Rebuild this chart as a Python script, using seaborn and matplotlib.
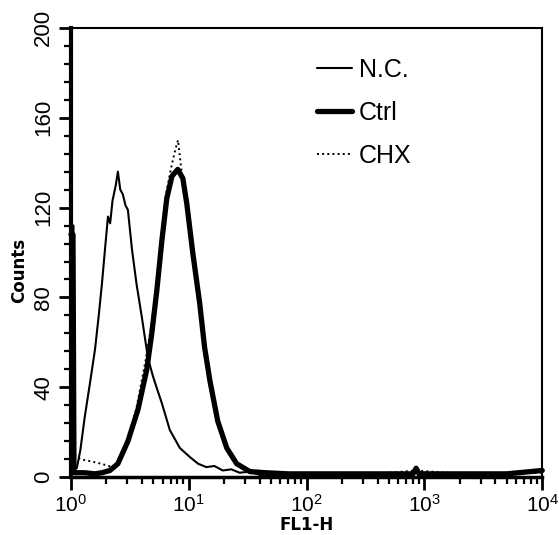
import pandas as pd
import seaborn as sns
import matplotlib.pyplot as plt
from matplotlib.ticker import FixedLocator, LogLocator

# ---- data (FL1-H value, counts) ----
nc_x = [1.0, 1.05, 1.07, 1.12, 1.2, 1.31, 1.45, 1.6, 1.72, 1.83, 1.94, 2.06, 2.15, 2.25,
        2.4, 2.5, 2.62, 2.75, 2.9, 3.04, 3.3, 3.6, 4.0, 4.5, 4.96, 5.4, 5.9, 6.9, 8.4,
        10.2, 12.0, 14.1, 16.5, 19.4, 23.0, 27.0, 33.0, 40.0, 60.0, 100.0, 1000.0,
        10000.0]
nc_y = [112, 112, 5, 4, 12, 27, 42, 57, 72, 86, 101, 116, 113, 123,
        130, 136, 128, 126, 121, 119, 101, 86, 71, 53, 45, 39, 33, 21, 13,
        9, 6, 4.5, 5, 3, 3.5, 2, 2.5, 1, 0.5, 0, 0, 0]

ctrl_x = [1.0, 1.04, 1.06, 1.3, 1.6, 1.83, 2.14, 2.5, 3.04, 3.7, 4.4, 4.85, 5.35, 5.9,
          6.5, 7.2, 8.06, 8.9, 9.6, 10.8, 12.4, 13.6, 15.1, 17.6, 21.0, 25.5, 33.0,
          45.0, 70.0, 150.0, 400.0, 800.0, 850.0, 900.0, 2000.0, 5000.0, 10000.0]
ctrl_y = [108, 108, 2, 2, 1.5, 2, 3, 6, 16, 30, 48, 64, 83, 105,
          124, 134, 137, 133, 122, 100, 77, 58, 43, 25, 13, 6, 2.5,
          2, 1.5, 1.5, 1.5, 1.5, 4, 1.5, 1.5, 1.5, 3]

chx_x = [1.0, 1.03, 1.06, 1.2, 1.5, 1.8, 2.1, 2.3, 2.5, 3.0, 3.6, 4.3, 4.8, 5.3, 5.8,
         6.4, 7.1, 7.7, 8.1, 8.6, 9.4, 10.7, 12.3, 13.5, 15.0, 17.5, 21.0, 25.5, 33.0,
         45.0, 70.0, 150.0, 400.0, 850.0, 2000.0, 10000.0]
chx_y = [55, 55, 10, 8, 7, 6, 5, 4, 6, 15, 31, 52, 67, 85, 107,
         126, 138, 146, 150, 138, 123, 101, 78, 59, 42, 24, 12, 6, 2.5,
         2, 1.5, 1.5, 1.5, 3, 1.5, 2]

series = [("N.C.", nc_x, nc_y, 1.5, "-"),
          ("Ctrl", ctrl_x, ctrl_y, 3.8, "-"),
          ("CHX", chx_x, chx_y, 1.4, ":")]

# ---- figure ----
sns.set_theme(style="ticks")
plt.rcParams['font.family'] = ['Liberation Sans', 'DejaVu Sans']
plt.rcParams['mathtext.default'] = 'regular'
plt.rcParams['text.color'] = 'black'
plt.rcParams['axes.labelcolor'] = 'black'
plt.rcParams['xtick.labelcolor'] = 'black'
plt.rcParams['ytick.labelcolor'] = 'black'

fig = plt.figure(figsize=(5.59, 5.35), dpi=100)
ax = fig.add_axes([0.127, 0.108, 0.843, 0.840])

for name, xs, ys, lw, ls in series:
    df = pd.DataFrame({"FL1-H": xs, "Counts": ys})
    sns.lineplot(data=df, x="FL1-H", y="Counts", ax=ax, color="black",
                 linewidth=lw, linestyle=ls, sort=False,
                 estimator=None, label=name, clip_on=False)

ax.set_xscale("log")
ax.set_xlim(1, 10000)
ax.set_ylim(0, 200)

ax.yaxis.set_major_locator(FixedLocator([0, 40, 80, 120, 160, 200]))
ax.yaxis.set_minor_locator(FixedLocator(range(0, 201, 8)))
ax.xaxis.set_major_locator(LogLocator(base=10, numticks=10))
ax.xaxis.set_minor_locator(LogLocator(base=10, subs=range(2, 10), numticks=10))

ax.set_yticklabels(["0", "40", "80", "120", "160", "200"], rotation=90, va="center")
ax.tick_params(axis="both", which="major", direction="out", length=9, width=2,
               color="black", labelcolor="black", labelsize=16, pad=3)
ax.tick_params(axis="both", which="minor", direction="out", length=5, width=1.6,
               color="black")
ax.tick_params(axis="x", which="major", labelsize=15)

ax.set_xlabel("FL1-H", fontsize=12, fontweight="bold", labelpad=0,
              color="black", family=["DejaVu Sans"])
ax.set_ylabel("Counts", fontsize=12, fontweight="bold",
              color="black", family=["DejaVu Sans"])
ax.yaxis.set_label_coords(-0.09, 0.46)

for side, lw in [("left", 3), ("bottom", 2.5), ("top", 1.5), ("right", 1.5)]:
    ax.spines[side].set_visible(True)
    ax.spines[side].set_linewidth(lw)
    ax.spines[side].set_color("black")

leg = ax.legend(loc="upper left", bbox_to_anchor=(0.5, 0.955), frameon=False,
                fontsize=18, handlelength=1.4, handletextpad=0.3,
                labelspacing=0.75, borderaxespad=0)
for t in leg.get_texts():
    t.set_color("black")

fig.savefig("out.png", dpi=100)
